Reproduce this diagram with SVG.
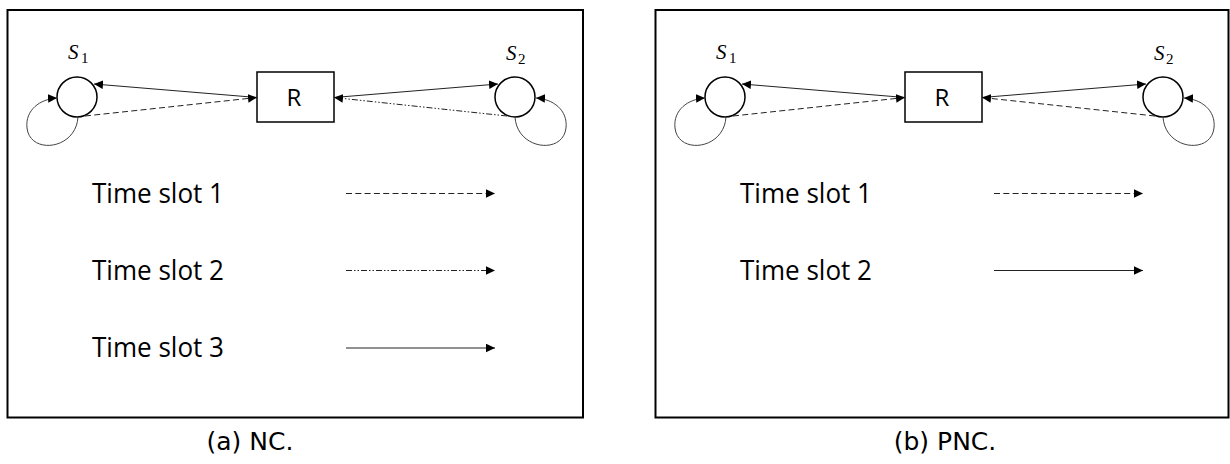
<svg xmlns="http://www.w3.org/2000/svg" width="1230" height="464" viewBox="0 0 1230 464">
<style>
.panel{fill:none;stroke:#000;stroke-width:2}
.node{fill:#fff;stroke:#000;stroke-width:1.5}
.con{fill:none;stroke:#222;stroke-width:1}
.loop{fill:none;stroke:#444;stroke-width:1}
.dash{stroke-dasharray:6 3.3}
.dd{stroke-dasharray:6 2 1.5 2 1.5 2}
.lbl{font-family:"Open Sans",sans-serif;font-size:28px;fill:#000}
.r{font-family:"Open Sans",sans-serif;font-size:24px;fill:#000;text-anchor:middle}
.s{font-family:"Liberation Serif",serif;font-style:italic;font-size:21px;fill:#000}
.sub{font-family:"Liberation Serif",serif;font-style:normal;font-size:15px}
.cap{font-family:"DejaVu Sans",sans-serif;font-size:25px;fill:#000;text-anchor:middle}
</style>
<defs>
<marker id="ah" markerUnits="userSpaceOnUse" markerWidth="10" markerHeight="10" refX="9" refY="4.3" orient="auto">
<path d="M0,0 L9,4.3 L0,8.6 z" fill="#000"/>
</marker>
</defs>
<rect x="0" y="0" width="1230" height="464" fill="#fff"/>
<g id="panel-a">
<rect class="panel" x="7.5" y="10" width="575.5" height="407.5"/>
</g>
<g id="panel-b">
<rect class="panel" x="655.5" y="10" width="573" height="407.5"/>
</g>
<g id="a-S1"><circle class="node" cx="77" cy="97" r="20"/><text class="s" x="68" y="59">S<tspan class="sub" x="81" y="63">1</tspan></text></g>
<g id="a-R"><rect class="node" x="257" y="72" width="77" height="50"/><text class="r" x="294" y="106">R</text></g>
<g id="a-S2"><circle class="node" cx="515" cy="97" r="20"/><text class="s" x="506" y="60">S<tspan class="sub" x="518" y="64">2</tspan></text></g>
<g id="b-S1"><circle class="node" cx="725" cy="97" r="20"/><text class="s" x="716" y="59">S<tspan class="sub" x="729" y="63">1</tspan></text></g>
<g id="b-R"><rect class="node" x="905" y="72" width="77" height="50"/><text class="r" x="942" y="106">R</text></g>
<g id="b-S2"><circle class="node" cx="1163" cy="97" r="20"/><text class="s" x="1154" y="60">S<tspan class="sub" x="1166" y="64">2</tspan></text></g>
<g id="legend-a">
<text class="lbl" x="92" y="203" textLength="132" lengthAdjust="spacingAndGlyphs">Time slot 1</text>
<text class="lbl" x="92" y="280" textLength="132" lengthAdjust="spacingAndGlyphs">Time slot 2</text>
<text class="lbl" x="92" y="357" textLength="132" lengthAdjust="spacingAndGlyphs">Time slot 3</text>
</g>
<g id="legend-b">
<text class="lbl" x="740" y="203" textLength="132" lengthAdjust="spacingAndGlyphs">Time slot 1</text>
<text class="lbl" x="740" y="280" textLength="132" lengthAdjust="spacingAndGlyphs">Time slot 2</text>
</g>
<g id="connectors">
<line class="con" x1="257" y1="97.5" x2="94" y2="84" marker-end="url(#ah)"/>
<line class="con dash" x1="85" y1="116" x2="257" y2="97.5" marker-end="url(#ah)"/>
<line class="con" x1="334" y1="97.5" x2="498" y2="84" marker-end="url(#ah)"/>
<line class="con dd" x1="507" y1="116" x2="334" y2="97.5" marker-end="url(#ah)"/>
<path class="loop" d="M78,117 C76,150 30,155 27,128 C25,110 40,99 57,98" marker-end="url(#ah)"/>
<path class="loop" d="M515,117 C517,150 563,155 566,128 C568,110 553,99 536,98" marker-end="url(#ah)"/>
<line class="con dash" x1="346" y1="193.5" x2="495" y2="193.5" marker-end="url(#ah)"/>
<line class="con dd" x1="346" y1="270.5" x2="495" y2="270.5" marker-end="url(#ah)"/>
<line class="con" x1="346" y1="348" x2="495" y2="348" marker-end="url(#ah)"/>
<line class="con" x1="905" y1="97.5" x2="742" y2="84" marker-end="url(#ah)"/>
<line class="con dash" x1="733" y1="116" x2="905" y2="97.5" marker-end="url(#ah)"/>
<line class="con" x1="982" y1="97.5" x2="1146" y2="84" marker-end="url(#ah)"/>
<line class="con dash" x1="1155" y1="116" x2="982" y2="97.5" marker-end="url(#ah)"/>
<path class="loop" d="M726,117 C724,150 678,155 675,128 C673,110 688,99 705,98" marker-end="url(#ah)"/>
<path class="loop" d="M1163,117 C1165,150 1211,155 1214,128 C1216,110 1201,99 1184,98" marker-end="url(#ah)"/>
<line class="con dash" x1="994" y1="193.5" x2="1143" y2="193.5" marker-end="url(#ah)"/>
<line class="con" x1="994" y1="270.5" x2="1143" y2="270.5" marker-end="url(#ah)"/>
</g>
<g id="captions">
<text class="cap" x="250" y="450">(a) NC.</text>
<text class="cap" x="945" y="450">(b) PNC.</text>
</g>
</svg>
